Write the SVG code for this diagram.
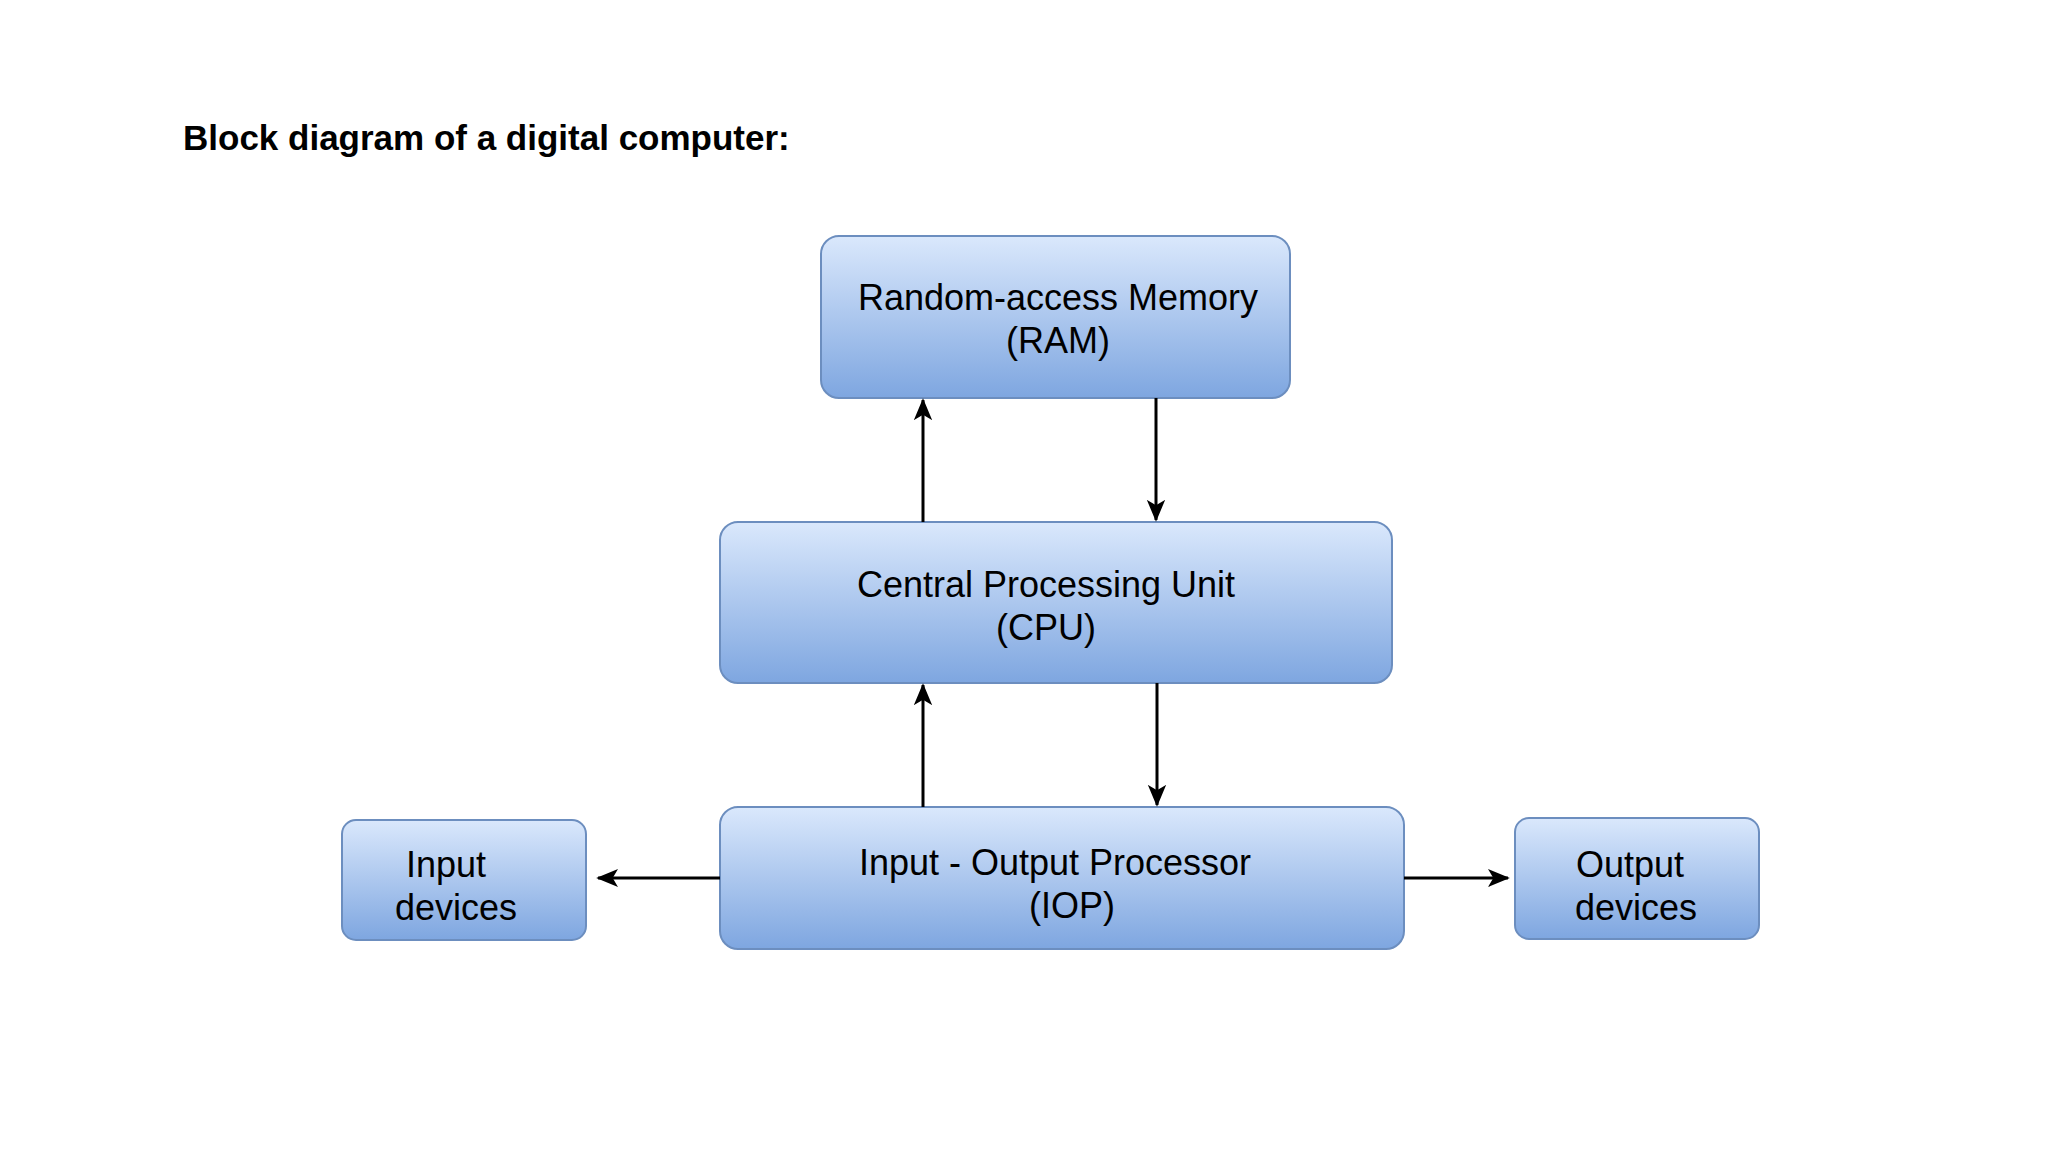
<svg xmlns="http://www.w3.org/2000/svg" width="2048" height="1152" viewBox="0 0 2048 1152">
<defs>
<linearGradient id="g" x1="0" y1="0" x2="0" y2="1"><stop offset="0" stop-color="#dae8fc"/><stop offset="1" stop-color="#7ea6e0"/></linearGradient>
<marker id="a" viewBox="0 0 10 10" refX="9" refY="5" markerWidth="10" markerHeight="10" markerUnits="userSpaceOnUse" orient="auto"><path d="M0,0 L10,5 L0,10 L3,5 Z" fill="#000"/></marker>
<marker id="b" viewBox="0 0 12 12" refX="11" refY="6" markerWidth="22" markerHeight="22" markerUnits="userSpaceOnUse" orient="auto"><path d="M0,1 L12,6 L0,11 L3,6 Z" fill="#000"/></marker>
</defs>
<style>
.n{fill:url(#g);stroke:#6c8ebf;stroke-width:2}
.t{font-family:"Liberation Sans",Arial,sans-serif;font-size:36px;fill:#000;text-anchor:middle}
.c{stroke:#000;stroke-width:3;fill:none;marker-end:url(#b)}
</style>
<rect width="2048" height="1152" fill="#fff"/>
<text x="183" y="150" font-family="Liberation Sans,Arial,sans-serif" font-weight="bold" font-size="35" fill="#000">Block diagram of a digital computer:</text>
<g id="ram"><rect class="n" x="821" y="236" width="469" height="162" rx="18"/><text class="t" x="1058" y="310">Random-access Memory</text><text class="t" x="1058" y="353">(RAM)</text></g>
<g id="cpu"><rect class="n" x="720" y="522" width="672" height="161" rx="18"/><text class="t" x="1046" y="597">Central Processing Unit</text><text class="t" x="1046" y="640">(CPU)</text></g>
<g id="iop"><rect class="n" x="720" y="807" width="684" height="142" rx="18"/><text class="t" x="1055" y="875">Input - Output Processor</text><text class="t" x="1072" y="918">(IOP)</text></g>
<g id="input"><rect class="n" x="342" y="820" width="244" height="120" rx="14"/><text class="t" x="446" y="877">Input</text><text class="t" x="456" y="920">devices</text></g>
<g id="output"><rect class="n" x="1515" y="818" width="244" height="121" rx="14"/><text class="t" x="1630" y="877">Output</text><text class="t" x="1636" y="920">devices</text></g>
<g id="connectors">
<line class="c" x1="923" y1="522" x2="923" y2="400"/>
<line class="c" x1="1156" y1="398" x2="1156" y2="520"/>
<line class="c" x1="923" y1="807" x2="923" y2="685"/>
<line class="c" x1="1157" y1="683" x2="1157" y2="805"/>
<line class="c" x1="720" y1="878" x2="598" y2="878"/>
<line class="c" x1="1404" y1="878" x2="1508" y2="878"/>
</g>
</svg>
